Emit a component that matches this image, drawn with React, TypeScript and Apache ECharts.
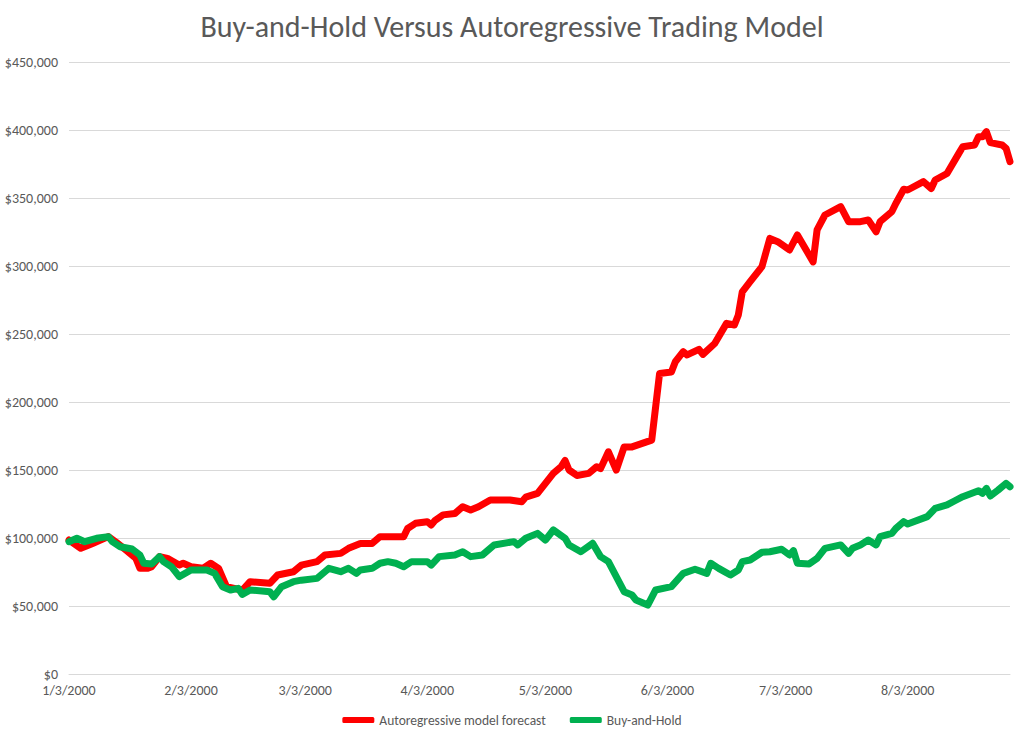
import React, { useEffect, useRef } from "react";
import * as echarts from "echarts";

const TITLE = "Buy-and-Hold Versus Autoregressive Trading Model";
const SERIES_NAMES = ["Autoregressive model forecast", "Buy-and-Hold"];
const FIRST_DAY = [2000, 1, 3];
const LAST_DAY = [2000, 8, 29];
const Y_MIN = 0;
const Y_MAX = 450000;
const Y_STEP = 50000;

const autoregressive: [string, number][] = [
  ["1/3/2000", 98500], ["1/6/2000", 92400], ["1/9/2000", 96000], ["1/13/2000", 101000],
  ["1/15/2000", 96800], ["1/18/2000", 89900], ["1/20/2000", 85000], ["1/21/2000", 77700],
  ["1/23/2000", 77700], ["1/24/2000", 78900], ["1/26/2000", 86300], ["1/28/2000", 85000],
  ["1/31/2000", 80100], ["2/1/2000", 81400], ["2/3/2000", 78900], ["2/6/2000", 77700],
  ["2/8/2000", 81400], ["2/10/2000", 77700], ["2/12/2000", 64200], ["2/14/2000", 63000],
  ["2/16/2000", 61500], ["2/18/2000", 67900], ["2/23/2000", 66700], ["2/25/2000", 72800],
  ["2/29/2000", 75200], ["3/2/2000", 80000], ["3/6/2000", 82600], ["3/8/2000", 87500],
  ["3/12/2000", 88700], ["3/14/2000", 92400], ["3/17/2000", 96000], ["3/20/2000", 96000],
  ["3/22/2000", 101000], ["3/26/2000", 101000], ["3/28/2000", 101000], ["3/29/2000", 107000],
  ["3/31/2000", 110800], ["4/3/2000", 112000], ["4/4/2000", 109600], ["4/5/2000", 113000],
  ["4/7/2000", 117000], ["4/10/2000", 118000], ["4/12/2000", 123000], ["4/14/2000", 120600],
  ["4/16/2000", 123000], ["4/19/2000", 128000], ["4/24/2000", 128000], ["4/27/2000", 126700],
  ["4/28/2000", 130000], ["5/1/2000", 132800], ["5/5/2000", 147500], ["5/7/2000", 152500],
  ["5/8/2000", 157000], ["5/9/2000", 150000], ["5/11/2000", 146000], ["5/14/2000", 147500],
  ["5/16/2000", 152400], ["5/17/2000", 151000], ["5/19/2000", 163400], ["5/21/2000", 150000],
  ["5/23/2000", 167000], ["5/25/2000", 167000], ["5/30/2000", 172000], ["5/31/2000", 196500],
  ["6/1/2000", 221000], ["6/4/2000", 222000], ["6/5/2000", 229600], ["6/7/2000", 237000],
  ["6/8/2000", 234600], ["6/11/2000", 238700], ["6/12/2000", 235000], ["6/15/2000", 243000],
  ["6/18/2000", 257800], ["6/20/2000", 256600], ["6/21/2000", 264000], ["6/22/2000", 281000],
  ["6/24/2000", 288500], ["6/27/2000", 299500], ["6/29/2000", 320300], ["7/1/2000", 317900],
  ["7/4/2000", 311800], ["7/6/2000", 322800], ["7/10/2000", 303000], ["7/11/2000", 326500],
  ["7/13/2000", 337500], ["7/17/2000", 343600], ["7/19/2000", 332600], ["7/22/2000", 332600],
  ["7/24/2000", 333800], ["7/26/2000", 325200], ["7/27/2000", 332600], ["7/30/2000", 340000],
  ["7/31/2000", 346000], ["8/2/2000", 356400], ["8/3/2000", 355900], ["8/7/2000", 362000],
  ["8/9/2000", 357000], ["8/10/2000", 363200], ["8/13/2000", 368000], ["8/16/2000", 382800],
  ["8/17/2000", 387700], ["8/20/2000", 389000], ["8/21/2000", 395000], ["8/22/2000", 395000],
  ["8/23/2000", 398800], ["8/24/2000", 390700], ["8/27/2000", 389000], ["8/28/2000", 386500],
  ["8/29/2000", 376700],
];

const buyAndHold: [string, number][] = [
  ["1/3/2000", 97300], ["1/5/2000", 99800], ["1/7/2000", 97300], ["1/10/2000", 99800],
  ["1/13/2000", 101000], ["1/14/2000", 97300], ["1/16/2000", 93600], ["1/19/2000", 91900],
  ["1/21/2000", 87500], ["1/22/2000", 81400], ["1/24/2000", 80900], ["1/26/2000", 86300],
  ["1/27/2000", 82600], ["1/29/2000", 78900], ["1/31/2000", 71600], ["2/3/2000", 76500],
  ["2/7/2000", 76500], ["2/9/2000", 74000], ["2/11/2000", 64200], ["2/13/2000", 61800],
  ["2/15/2000", 63000], ["2/16/2000", 58500], ["2/18/2000", 61800], ["2/23/2000", 60500],
  ["2/24/2000", 56800], ["2/26/2000", 64200], ["2/29/2000", 67900], ["3/2/2000", 69000],
  ["3/6/2000", 70300], ["3/9/2000", 77700], ["3/12/2000", 75200], ["3/14/2000", 77700],
  ["3/16/2000", 74000], ["3/17/2000", 76500], ["3/20/2000", 77700], ["3/22/2000", 81400],
  ["3/24/2000", 82600], ["3/26/2000", 81400], ["3/28/2000", 78900], ["3/30/2000", 82600],
  ["4/3/2000", 82600], ["4/4/2000", 80100], ["4/6/2000", 86300], ["4/10/2000", 87500],
  ["4/12/2000", 89900], ["4/14/2000", 86300], ["4/17/2000", 87500], ["4/20/2000", 94900],
  ["4/25/2000", 97300], ["4/26/2000", 94900], ["4/28/2000", 99800], ["5/1/2000", 103400],
  ["5/3/2000", 98500], ["5/5/2000", 105900], ["5/8/2000", 99800], ["5/9/2000", 94900],
  ["5/12/2000", 89900], ["5/15/2000", 96100], ["5/17/2000", 86300], ["5/19/2000", 82600],
  ["5/23/2000", 60500], ["5/25/2000", 58100], ["5/26/2000", 54400], ["5/29/2000", 50700],
  ["5/31/2000", 61800], ["6/4/2000", 64200], ["6/7/2000", 74000], ["6/10/2000", 77000],
  ["6/13/2000", 74000], ["6/14/2000", 81400], ["6/16/2000", 77700], ["6/19/2000", 72800],
  ["6/21/2000", 76500], ["6/22/2000", 82600], ["6/24/2000", 83800], ["6/27/2000", 89500],
  ["6/29/2000", 89900], ["7/2/2000", 91700], ["7/4/2000", 87500], ["7/5/2000", 90700],
  ["7/6/2000", 81400], ["7/9/2000", 80900], ["7/11/2000", 85000], ["7/13/2000", 92400],
  ["7/17/2000", 94900], ["7/19/2000", 88700], ["7/20/2000", 92400], ["7/22/2000", 94900],
  ["7/24/2000", 98500], ["7/26/2000", 94900], ["7/27/2000", 101000], ["7/30/2000", 103400],
  ["7/31/2000", 107000], ["8/2/2000", 112000], ["8/3/2000", 110300], ["8/8/2000", 115700],
  ["8/10/2000", 121800], ["8/13/2000", 124300], ["8/15/2000", 127400], ["8/17/2000", 130400],
  ["8/21/2000", 134800], ["8/22/2000", 132800], ["8/23/2000", 136500], ["8/24/2000", 130900],
  ["8/26/2000", 135300], ["8/28/2000", 140200], ["8/29/2000", 137700],
];

function buildCategories(): string[] {
  const out: string[] = [];
  const d = new Date(Date.UTC(FIRST_DAY[0], FIRST_DAY[1] - 1, FIRST_DAY[2]));
  const end = Date.UTC(LAST_DAY[0], LAST_DAY[1] - 1, LAST_DAY[2]);
  while (d.getTime() <= end) {
    out.push(`${d.getUTCMonth() + 1}/${d.getUTCDate()}/${d.getUTCFullYear()}`);
    d.setUTCDate(d.getUTCDate() + 1);
  }
  return out;
}

function align(cats: string[], pairs: [string, number][]) {
  const m = new Map(pairs);
  return cats.map((c) => (m.has(c) ? (m.get(c) as number) : null));
}

const FONT = "Carlito, Lato, 'Liberation Sans', sans-serif";
const TEXT = "#595959";

export default function App() {
  const ref = useRef<HTMLDivElement>(null);
  useEffect(() => {
    if (!ref.current) return;
    const chart = echarts.init(ref.current, undefined, { renderer: "svg" });
    const cats = buildCategories();
    chart.setOption({
      animation: false,
      backgroundColor: "#ffffff",
      title: {
        text: TITLE,
        left: "center",
        top: 6,
        textStyle: { color: TEXT, fontFamily: FONT, fontSize: 30, fontWeight: "normal" },
      },
      legend: {
        bottom: 8,
        left: "center",
        itemWidth: 32,
        itemHeight: 6,
        itemGap: 24,
        icon: "roundRect",
        textStyle: { color: TEXT, fontFamily: FONT, fontSize: 13.5 },
        data: SERIES_NAMES,
      },
      grid: { left: 69, right: 14, top: 62, bottom: 66, containLabel: false },
      xAxis: {
        type: "category",
        data: cats,
        boundaryGap: false,
        axisLine: { show: true, lineStyle: { color: "#d9d9d9", width: 1 } },
        axisTick: { show: false },
        splitLine: { show: false },
        axisLabel: {
          interval: (_i: number, v: string) => v.split("/")[1] === "3",
          color: TEXT,
          fontFamily: FONT,
          fontSize: 14,
          margin: 9,
        },
      },
      yAxis: {
        type: "value",
        min: Y_MIN,
        max: Y_MAX,
        interval: Y_STEP,
        axisLine: { show: false },
        axisTick: { show: false },
        splitLine: { lineStyle: { color: "#d9d9d9", width: 1 } },
        axisLabel: {
          color: TEXT,
          fontFamily: FONT,
          fontSize: 14,
          margin: 11,
          formatter: (v: number) => "$" + v.toLocaleString("en-US"),
        },
      },
      series: [
        {
          name: SERIES_NAMES[0],
          type: "line",
          data: align(cats, autoregressive),
          connectNulls: true,
          showSymbol: false,
          symbol: "none",
          itemStyle: { color: "#ff0000" },
          lineStyle: { color: "#ff0000", width: 7, cap: "round", join: "round" },
        },
        {
          name: SERIES_NAMES[1],
          type: "line",
          data: align(cats, buyAndHold),
          connectNulls: true,
          showSymbol: false,
          symbol: "none",
          itemStyle: { color: "#00b050" },
          lineStyle: { color: "#00b050", width: 7, cap: "round", join: "round" },
        },
      ],
    });
    return () => chart.dispose();
  }, []);
  return (
    <div
      ref={ref}
      style={{ position: "absolute", left: 0, top: 0, width: 1024, height: 740, background: "#fff" }}
    />
  );
}
